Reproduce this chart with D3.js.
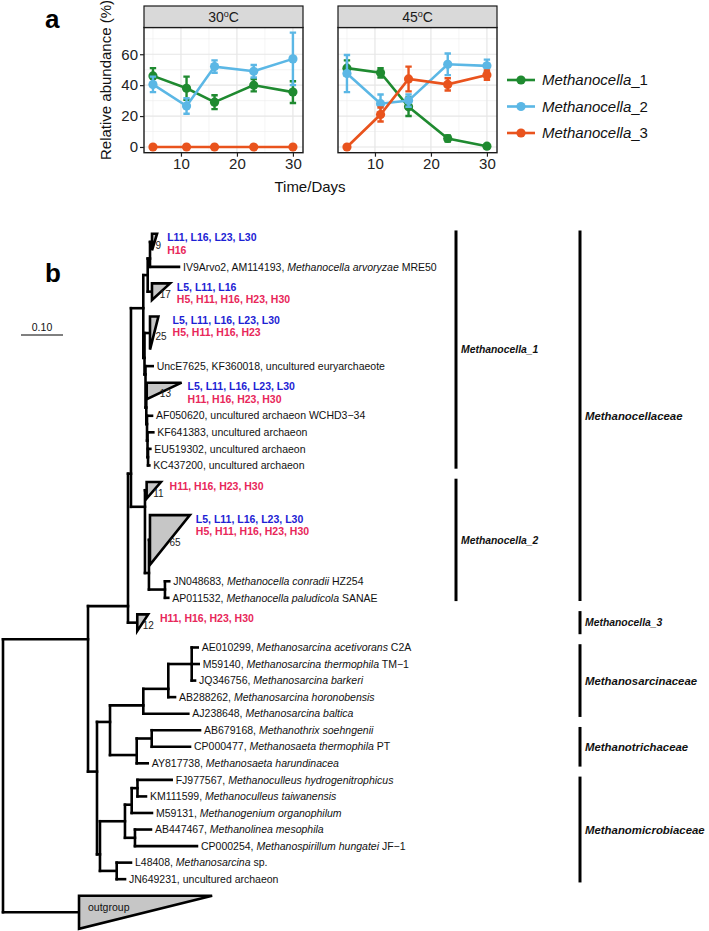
<!DOCTYPE html>
<html><head><meta charset="utf-8">
<script src="https://cdn.jsdelivr.net/npm/d3@7"></script>
<style>body{margin:0;background:#fff}svg{display:block}</style>
</head><body>
<script>
// ================= DATA: panel a =================
const days = [5, 11, 16, 23, 30];
const temps = ["30", "45"];
const seriesNames = ["Methanocella_1", "Methanocella_2", "Methanocella_3"];
const seriesColors = ["#1f8a30", "#5bb7e5", "#e9531d"];
const mean30 = [[46, 38, 29, 40, 35.5], [40.5, 26.5, 52, 49, 57], [0, 0, 0, 0, 0]];
const err30  = [[5, 7.5, 4.5, 4, 7], [5, 5, 4, 4, 17], [0, 0, 0, 0, 0]];
const mean45 = [[51, 48, 26, 5.5, 0.5], [47.5, 28, 30, 53.5, 52.5], [0, 21, 44, 40.5, 46.5]];
const err45  = [[5, 3, 6, 2, 1], [12, 6, 4, 7, 4], [0, 4.5, 8, 4, 3]];
const yTicks = [0, 20, 40, 60];
const yMinorTicks = [10, 30, 50, 70];
const xTicks = [10, 20, 30];
const xMinorTicks = [5, 15, 25];

// ================= DATA: panel b (tree) =================
const newick =
  "(((((((c9:0.0048,IV9Arvo2:0.0690):0.0055,c17:0.0102):0.0105," +
  "(c25:0.0131,(UncE7625:0.0171,(c13:0.0010,(AF050620:0.0119,(KF641383:0.0138,(EU519302:0.0055,KC437200:0.0031):0.0012):0.0012):0.0017):0.0019):0.0024):0.0029):0.0293," +
  "(c11:0.0040,(c65:0.0024,(JN048683:0.0102,AP011532:0.0079):0.0381):0.0095):0.0333):0.0071," +
  "c12:0.0221):0.0952," +
  "(((((AE010299:0.0143,M59140:0.0167,JQ346756:0.0079):0.0557,AB288262:0.0160):0.0595,AJ238648:0.1071):0.0793," +
  "((AB679168:0.1150,CP000477:0.0912):0.0357,AY817738:0.0262):0.0636):0.0310," +
  "((((FJ977567:0.0814,KM111599:0.0202):0.0138,M59131:0.0483):0.0160,(AB447467:0.0381,CP000254:0.1476):0.0238):0.0595," +
  "(L48408:0.0340,JN649231:0.0198):0.0398):0.0071):0.0214):0.2024," +
  "outgroup:0.1810);";

const collapsed = [
  { id: "c9",  count: "9",  rows: 2, depth: 0.012, L: "L11, L16, L23, L30", H: "H16" },
  { id: "c17", count: "17", rows: 2, depth: 0.043, L: "L5, L11, L16", H: "H5, H11, H16, H23, H30" },
  { id: "c25", count: "25", rows: 3, depth: 0.020, L: "L5, L11, L16, L23, L30", H: "H5, H11, H16, H23" },
  { id: "c13", count: "13", rows: 2, depth: 0.083, L: "L5, L11, L16, L23, L30", H: "H11, H16, H23, H30" },
  { id: "c11", count: "11", rows: 2, depth: 0.034, L: "", H: "H11, H16, H23, H30" },
  { id: "c65", count: "65", rows: 4, depth: 0.095, L: "L5, L11, L16, L23, L30", H: "H5, H11, H16, H23, H30" },
  { id: "c12", count: "12", rows: 2, depth: 0.026, L: "", H: "H11, H16, H23, H30" },
  { id: "outgroup", count: "", rows: 3, depth: 0.317, L: "", H: "", inner: "outgroup" }
];

const taxa = {
  IV9Arvo2: ["IV9Arvo2, AM114193, ", "Methanocella arvoryzae", " MRE50"],
  UncE7625: ["UncE7625, KF360018, uncultured euryarchaeote", "", ""],
  AF050620: ["AF050620, uncultured archaeon WCHD3\u221234", "", ""],
  KF641383: ["KF641383, uncultured archaeon", "", ""],
  EU519302: ["EU519302, uncultured archaeon", "", ""],
  KC437200: ["KC437200, uncultured archaeon", "", ""],
  JN048683: ["JN048683, ", "Methanocella conradii", " HZ254"],
  AP011532: ["AP011532, ", "Methanocella paludicola", " SANAE"],
  AE010299: ["AE010299, ", "Methanosarcina acetivorans", " C2A"],
  M59140:   ["M59140, ", "Methanosarcina thermophila", " TM\u22121"],
  JQ346756: ["JQ346756, ", "Methanosarcina barkeri", ""],
  AB288262: ["AB288262, ", "Methanosarcina horonobensis", ""],
  AJ238648: ["AJ238648, ", "Methanosarcina baltica", ""],
  AB679168: ["AB679168, ", "Methanothrix soehngenii", ""],
  CP000477: ["CP000477, ", "Methanosaeta thermophila", " PT"],
  AY817738: ["AY817738, ", "Methanosaeta harundinacea", ""],
  FJ977567: ["FJ977567, ", "Methanoculleus hydrogenitrophicus", ""],
  KM111599: ["KM111599, ", "Methanoculleus taiwanensis", ""],
  M59131:   ["M59131, ", "Methanogenium organophilum", ""],
  AB447467: ["AB447467, ", "Methanolinea mesophila", ""],
  CP000254: ["CP000254, ", "Methanospirillum hungatei", " JF\u22121"],
  L48408:   ["L48408, ", "Methanosarcina", " sp."],
  JN649231: ["JN649231, uncultured archaeon", "", ""]
};

const groups = [
  { name: "Methanocella_1", col: 0, from: "c9", to: "KC437200" },
  { name: "Methanocella_2", col: 0, from: "c11", to: "AP011532" },
  { name: "Methanocellaceae", col: 1, from: "c9", to: "AP011532" },
  { name: "Methanocella_3", col: 1, from: "c12", to: "c12" },
  { name: "Methanosarcinaceae", col: 1, from: "AE010299", to: "AJ238648" },
  { name: "Methanotrichaceae", col: 1, from: "AB679168", to: "AY817738" },
  { name: "Methanomicrobiaceae", col: 1, from: "FJ977567", to: "JN649231" }
];
const scaleBarValue = 0.10;

// ================= DRAWING =================
const FONT = "Arial, 'Liberation Sans', Helvetica, sans-serif";
const svg = d3.select("body").append("svg").attr("width", 709).attr("height", 931)
  .style("font-family", FONT);

svg.append("text").attr("x", 45).attr("y", 28).attr("font-size", 26).attr("font-weight", "bold").text("a");

const facetLeft = [144, 338], facetW = 159;
const stripTop = 6, panelTop = 27.5, panelBottom = 152.7;
const xA = d3.scaleLinear().domain([3.4, 31.8]).range([0, facetW]);
const yA = d3.scaleLinear().domain([-3.7, 77.3]).range([panelBottom, panelTop]);
const means = [mean30, mean45], errs = [err30, err45];

temps.forEach((t, f) => {
  const g = svg.append("g").attr("transform", `translate(${facetLeft[f]},0)`);
  g.append("rect").attr("x", 0).attr("y", panelTop).attr("width", facetW)
    .attr("height", panelBottom - panelTop).attr("fill", "#fff");
  g.selectAll(".xmin").data(xMinorTicks).join("line")
    .attr("x1", d => xA(d)).attr("x2", d => xA(d)).attr("y1", panelTop).attr("y2", panelBottom)
    .attr("stroke", "#ececec").attr("stroke-width", 0.6);
  g.selectAll(".ymin").data(yMinorTicks).join("line")
    .attr("x1", 0).attr("x2", facetW).attr("y1", d => yA(d)).attr("y2", d => yA(d))
    .attr("stroke", "#ececec").attr("stroke-width", 0.6);
  g.selectAll(".xmaj").data(xTicks).join("line")
    .attr("x1", d => xA(d)).attr("x2", d => xA(d)).attr("y1", panelTop).attr("y2", panelBottom)
    .attr("stroke", "#e6e6e6").attr("stroke-width", 1.2);
  g.selectAll(".ymaj").data(yTicks).join("line")
    .attr("x1", 0).attr("x2", facetW).attr("y1", d => yA(d)).attr("y2", d => yA(d))
    .attr("stroke", "#e6e6e6").attr("stroke-width", 1.2);

  seriesNames.forEach((s, k) => {
    const pts = days.map((d, j) => ({ d, v: means[f][k][j], e: errs[f][k][j] }));
    g.append("path").datum(pts)
      .attr("d", d3.line().x(p => xA(p.d)).y(p => yA(p.v)))
      .attr("fill", "none").attr("stroke", seriesColors[k]).attr("stroke-width", 2.6);
    const eb = pts.filter(p => p.e > 0);
    g.selectAll(null).data(eb).join("path")
      .attr("d", p => {
        const x0 = xA(p.d), c = 3.2, t = yA(p.v + p.e), b = yA(p.v - p.e);
        return `M${x0 - c},${t}H${x0 + c}M${x0},${t}V${b}M${x0 - c},${b}H${x0 + c}`;
      })
      .attr("fill", "none").attr("stroke", seriesColors[k]).attr("stroke-width", 2.4);
    g.selectAll(null).data(pts).join("circle")
      .attr("cx", p => xA(p.d)).attr("cy", p => yA(p.v)).attr("r", 4.6)
      .attr("fill", seriesColors[k]);
  });

  g.append("rect").attr("x", 0).attr("y", panelTop).attr("width", facetW)
    .attr("height", panelBottom - panelTop).attr("fill", "none")
    .attr("stroke", "#1a1a1a").attr("stroke-width", 1.4);
  g.append("rect").attr("x", 0).attr("y", stripTop).attr("width", facetW)
    .attr("height", panelTop - stripTop).attr("fill", "#d9d9d9")
    .attr("stroke", "#1a1a1a").attr("stroke-width", 1.2);
  const st = g.append("text").attr("x", facetW / 2).attr("y", 22).attr("text-anchor", "middle")
    .attr("font-size", 14).attr("fill", "#1a1a1a");
  st.append("tspan").text(t);
  st.append("tspan").attr("font-size", 9).attr("dy", -5).text("o");
  st.append("tspan").attr("dy", 5).text("C");

  const xa = g.append("g").attr("transform", `translate(0,${panelBottom})`)
    .call(d3.axisBottom(xA).tickValues(xTicks).tickSize(4).tickPadding(2));
  xa.select(".domain").remove();
  xa.selectAll("line").attr("stroke", "#222").attr("stroke-width", 1.2);
  xa.selectAll("text").attr("font-size", 15).attr("fill", "#222").attr("font-family", FONT);
  if (f === 0) {
    const ya = g.append("g").call(d3.axisLeft(yA).tickValues(yTicks).tickSize(4).tickPadding(2));
    ya.select(".domain").remove();
    ya.selectAll("line").attr("stroke", "#222").attr("stroke-width", 1.2);
    ya.selectAll("text").attr("font-size", 15).attr("fill", "#222").attr("font-family", FONT);
  }
});

svg.append("text").attr("transform", "translate(111,80) rotate(-90)").attr("text-anchor", "middle")
  .attr("font-size", 15).attr("fill", "#111").text("Relative abundance (%)");
svg.append("text").attr("x", 310).attr("y", 192).attr("text-anchor", "middle")
  .attr("font-size", 15).attr("fill", "#111").text("Time/Days");

seriesNames.forEach((s, k) => {
  const yy = 80 + k * 26.5;
  svg.append("line").attr("x1", 507).attr("x2", 535).attr("y1", yy).attr("y2", yy)
    .attr("stroke", seriesColors[k]).attr("stroke-width", 2.6);
  svg.append("circle").attr("cx", 521).attr("cy", yy).attr("r", 4.6).attr("fill", seriesColors[k]);
  const parts = s.split("_");
  const tx = svg.append("text").attr("x", 542).attr("y", yy).attr("dy", "0.36em")
    .attr("font-size", 15).attr("fill", "#111");
  tx.append("tspan").attr("font-style", "italic").text(parts[0]);
  tx.append("tspan").text("_" + parts[1]);
});

svg.append("text").attr("x", 45).attr("y", 281.7).attr("font-size", 26).attr("font-weight", "bold").text("b");

function parseNewick(s) {
  let i = 0;
  function node() {
    const n = { children: [] };
    if (s[i] === "(") {
      i++;
      n.children.push(node());
      while (s[i] === ",") { i++; n.children.push(node()); }
      i++;
    }
    let name = "";
    while (i < s.length && !",():;".includes(s[i])) name += s[i++];
    n.name = name;
    if (s[i] === ":") {
      i++; let l = "";
      while (i < s.length && !",();".includes(s[i])) l += s[i++];
      n.length = +l;
    }
    if (!n.children.length) delete n.children;
    return n;
  }
  return node();
}

const root = d3.hierarchy(parseNewick(newick));
const collapsedById = new Map(collapsed.map(c => [c.id, c]));
root.each(n => { n.xd = n.parent ? n.parent.xd + (n.data.length || 0) : 0; });

const leaves = root.leaves();
let cum = 0;
leaves.forEach(l => {
  const c = collapsedById.get(l.data.name);
  l.rows = c ? c.rows : 1;
  l.rowStart = cum;
  l.rowEnd = cum + l.rows;
  cum += l.rows;
});
const totalRows = cum;
const rowPx = 16.55, rowTop = 225.45;
const yT = d3.scaleLinear().domain([0, totalRows]).range([rowTop, rowTop + totalRows * rowPx]);
const xT = d3.scaleLinear().domain([0, scaleBarValue]).range([3, 45]);

// branch attaches at the boundary between the first child's rows and the rest
root.eachAfter(n => {
  if (n.children) {
    const k = n.children.length;
    n.rowStart = n.children[0].rowStart;
    n.rowEnd = n.children[k - 1].rowEnd;
    n.yy = k === 2 ? yT(n.children[0].rowEnd) : n.children[Math.floor(k / 2)].yy;
  } else n.yy = yT(n.rowStart + n.rows / 2);
});

const treeG = svg.append("g").attr("fill", "none").attr("stroke", "#000")
  .attr("stroke-width", 2.6).attr("stroke-linecap", "square");
root.descendants().forEach(n => {
  if (n.parent) {
    treeG.append("line").attr("x1", xT(n.parent.xd)).attr("x2", xT(n.xd))
      .attr("y1", n.yy).attr("y2", n.yy);
  }
  if (n.children) {
    treeG.append("line").attr("x1", xT(n.xd)).attr("x2", xT(n.xd))
      .attr("y1", n.children[0].yy).attr("y2", n.children[n.children.length - 1].yy);
  }
});

const lblFont = 10.5;
leaves.forEach(l => {
  const c = collapsedById.get(l.data.name);
  const x0 = xT(l.xd);
  if (c) {
    const top = yT(l.rowStart + 0.5), bot = yT(l.rowEnd - 0.5);
    const len = xT(l.xd + c.depth) - x0;
    svg.append("path").attr("d", `M${x0},${top}L${x0 + len},${top}L${x0},${bot}Z`)
      .attr("fill", "#c6c6c6").attr("stroke", "#000").attr("stroke-width", 2.6)
      .attr("stroke-linejoin", "miter");
    let right = x0 + len;
    if (c.count) {
      const ny = l.yy + 3;
      const hx = x0 + len * (bot - ny) / (bot - top) + 2;
      const nt = svg.append("text").attr("x", hx).attr("y", ny).attr("dy", "0.35em")
        .attr("font-size", 10).attr("fill", "#222").text(c.count);
      right = Math.max(right, hx + nt.node().getComputedTextLength());
    }
    const lines = [[c.L, "#1d22d4"], [c.H, "#e8275a"]].filter(d => d[0]);
    lines.forEach((ln, i) => {
      svg.append("text").attr("x", right + 6).attr("y", top + 4 + i * 12.3).attr("dy", "0.35em")
        .attr("font-size", lblFont).attr("font-weight", "bold").attr("fill", ln[1]).text(ln[0]);
    });
    if (c.inner) {
      svg.append("text").attr("x", x0 + 9).attr("y", top + 12).attr("dy", "0.35em")
        .attr("font-size", lblFont).attr("fill", "#111").text(c.inner);
    }
  } else {
    const t = taxa[l.data.name];
    const tx = svg.append("text").attr("x", x0 + 4).attr("y", l.yy).attr("dy", "0.35em")
      .attr("font-size", lblFont).attr("fill", "#111");
    tx.append("tspan").text(t[0]);
    if (t[1]) tx.append("tspan").attr("font-style", "italic").text(t[1]);
    if (t[2]) tx.append("tspan").text(t[2]);
  }
});

const sbX = 21, sbY = 335;
svg.append("line").attr("x1", sbX).attr("x2", sbX + xT(scaleBarValue) - xT(0))
  .attr("y1", sbY).attr("y2", sbY).attr("stroke", "#000").attr("stroke-width", 1);
svg.append("text").attr("x", sbX + (xT(scaleBarValue) - xT(0)) / 2).attr("y", sbY - 4)
  .attr("text-anchor", "middle").attr("font-size", 10.5).attr("fill", "#111").text("0.10");

const leafByName = new Map(leaves.map(l => [l.data.name, l]));
const colX = [456, 580];
groups.forEach(gr => {
  const a = leafByName.get(gr.from), b = leafByName.get(gr.to);
  const y1 = yT(a.rowStart) + 5, y2 = yT(b.rowEnd) - 5;
  const bx = colX[gr.col];
  svg.append("line").attr("x1", bx).attr("x2", bx).attr("y1", y1).attr("y2", y2)
    .attr("stroke", "#000").attr("stroke-width", 3);
  svg.append("text").attr("x", bx + 5).attr("y", (y1 + y2) / 2).attr("dy", "0.35em")
    .attr("font-size", gr.name.includes("_") ? 10.4 : 11.4)
    .attr("font-weight", "bold").attr("font-style", "italic").attr("fill", "#111").text(gr.name);
});
</script>
</body></html>
